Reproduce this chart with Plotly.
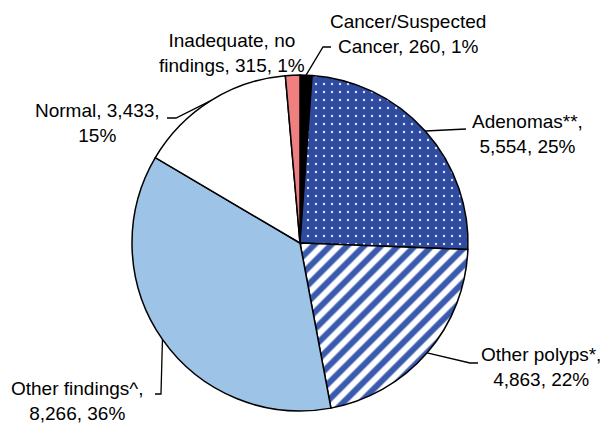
import math
import plotly.graph_objects as go

# the page body has an 8px margin, so the figure is drawn 8px in from the corner
OFF = 8
W, H = 610 - OFF, 423 - OFF

labels = ["Cancer/Suspected Cancer", "Adenomas**", "Other polyps*",
          "Other findings^", "Normal", "Inadequate, no findings"]
values = [260, 5554, 4863, 8266, 3433, 315]
label_text = [
    "Cancer/Suspected<br>Cancer, 260, 1%",
    "Adenomas**,<br>5,554, 25%",
    "Other polyps*,<br>4,863, 22%",
    "Other findings^,<br>8,266, 36%",
    "Normal, 3,433,<br>15%",
    "Inadequate, no<br>findings, 315, 1%",
]
colors = ["#000000", "#2F4B9F", "#FFFFFF", "#9DC3E6", "#FFFFFF", "#F08080"]

# pie geometry in window pixels
CX, CY, R = 300, 243, 168

# label centre, leader elbow points (window pixels); None = no leader
label_pos = [(408, 34), (527, 134), (541, 367), (77, 401), (97, 123), (232, 53)]
elbows = [
    [(323, 47), (331, 47)],
    [(466, 129)],
    [(470, 363), (478, 363)],
    [(161, 394), (155, 394)],
    [(176, 118), (167, 118)],
    None,
]


def px(x, y):
    return (x - OFF) / W, 1 - (y - OFF) / H


x0, y1 = px(CX - R, CY - R)
x1, y0 = px(CX + R, CY + R)

fig = go.Figure(go.Pie(
    labels=labels,
    values=values,
    sort=False,
    direction="clockwise",
    rotation=0,
    textinfo="none",
    hoverinfo="skip",
    marker=dict(
        colors=colors,
        line=dict(color="black", width=1.5),
        pattern=dict(
            shape=["", ".", "/", "", "", ""],
            bgcolor=["#000000", "#2F4B9F", "#FFFFFF", "#9DC3E6", "#FFFFFF", "#F08080"],
            fgcolor=["#000000", "#DCE3F5", "#3A5AAE", "#9DC3E6", "#FFFFFF", "#F08080"],
            size=[8, 8, 12, 8, 8, 8],
            solidity=[0.3, 0.07, 0.5, 0.3, 0.3, 0.3],
            fillmode="replace",
        ),
    ),
    domain=dict(x=[x0, x1], y=[y0, y1]),
    showlegend=False,
))

total = sum(values)
cum = 0
shapes = []
annotations = []
for i, v in enumerate(values):
    mid = (cum + v / 2) / total * 2 * math.pi
    cum += v
    ex = CX + R * math.sin(mid)
    ey = CY - R * math.cos(mid)
    if elbows[i]:
        pts = [(ex, ey)] + elbows[i]
        path = "M " + " L ".join(f"{px(x, y)[0]},{px(x, y)[1]}" for x, y in pts)
        shapes.append(dict(type="path", xref="paper", yref="paper", path=path,
                           line=dict(color="black", width=1.3)))
    lx, ly = px(*label_pos[i])
    annotations.append(dict(
        x=lx, y=ly, xref="paper", yref="paper", text=label_text[i],
        showarrow=False, xanchor="center", yanchor="middle", align="center",
        font=dict(family="Liberation Sans, Arial", size=19, color="black"),
    ))

fig.update_layout(
    width=W, height=H,
    margin=dict(l=0, r=0, t=0, b=0),
    paper_bgcolor="white",
    plot_bgcolor="white",
    shapes=shapes,
    annotations=annotations,
)

fig.write_html("out.html")
